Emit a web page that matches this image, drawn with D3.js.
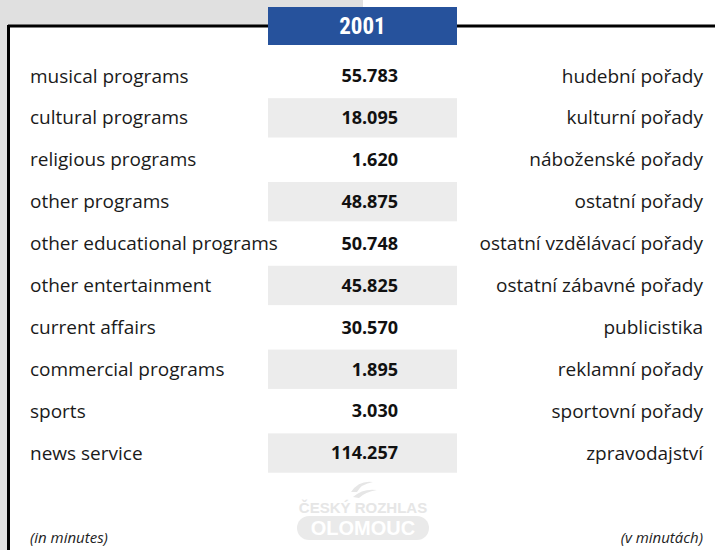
<!DOCTYPE html>
<html>
<head>
<meta charset="utf-8">
<script src="https://cdn.jsdelivr.net/npm/d3@7"></script>
<style>
  body { margin: 0; background: #fff; }
  svg { display: block; }
  .lbl { font-family: "Open Sans", sans-serif; font-size: 19px; fill: #1a1a1a; }
  .val { font-family: "Open Sans", sans-serif; font-size: 18px; font-weight: bold; fill: #111; }
  .note { font-family: "Open Sans", sans-serif; font-size: 15px; font-style: italic; fill: #222; }
</style>
</head>
<body>
<div id="chart"></div>
<script>
// data
var year = "2001";
var labelsEn = ["musical programs", "cultural programs", "religious programs", "other programs",
  "other educational programs", "other entertainment", "current affairs", "commercial programs",
  "sports", "news service"];
var labelsCz = ["hudební pořady", "kulturní pořady", "náboženské pořady", "ostatní pořady",
  "ostatní vzdělávací pořady", "ostatní zábavné pořady", "publicistika", "reklamní pořady",
  "sportovní pořady", "zpravodajství"];
var minutes = [55783, 18095, 1620, 48875, 50748, 45825, 30570, 1895, 3030, 114257];
var unitEn = "(in minutes)", unitCz = "(v minutách)";

var width = 715, height = 550;

var cz = d3.formatLocale({decimal: ",", thousands: ".", grouping: [3], currency: ["", " Kč"]});
var fmt = cz.format(",d");

var svg = d3.select("#chart").append("svg")
  .attr("width", width)
  .attr("height", height);

// background gray corner + left strip
svg.append("rect").attr("x", 0).attr("y", 0).attr("width", 363).attr("height", 26).attr("fill", "#e0e0e0");
svg.append("rect").attr("x", 0).attr("y", 0).attr("width", 8).attr("height", height).attr("fill", "#e0e0e0");

// frame
svg.append("rect").attr("x", 8).attr("y", 26).attr("width", width).attr("height", height)
  .attr("fill", "#fff");
svg.append("line").attr("x1", 8).attr("x2", width).attr("y1", 26).attr("y2", 26)
  .attr("stroke", "#000").attr("stroke-width", 3);
svg.append("line").attr("x1", 8.5).attr("x2", 8.5).attr("y1", 25).attr("y2", height)
  .attr("stroke", "#000").attr("stroke-width", 3);

// column scale
var x = d3.scaleOrdinal()
  .domain(["en", "val", "cz"])
  .range([30, 398, 703]);
var colBand = {x0: 268, x1: 457};

var y = d3.scaleBand()
  .domain(d3.range(minutes.length))
  .range([55, 474])
  .paddingInner(0.06)
  .paddingOuter(0.03);

// header
svg.append("rect")
  .attr("x", colBand.x0).attr("y", 7)
  .attr("width", colBand.x1 - colBand.x0).attr("height", 38)
  .attr("fill", "#26529c");
svg.append("text")
  .attr("x", (colBand.x0 + colBand.x1) / 2).attr("y", 34)
  .attr("text-anchor", "middle")
  .attr("font-family", "'Liberation Sans Narrow', 'Roboto Condensed', Roboto, sans-serif")
  .attr("font-size", "23px").attr("font-weight", "bold")
  .attr("fill", "#fff")
  .text(year);

var rows = svg.selectAll("g.row")
  .data(minutes)
  .enter().append("g")
  .attr("class", "row")
  .attr("transform", function(d, i) { return "translate(0," + y(i) + ")"; });

rows.filter(function(d, i) { return i % 2 == 1; })
  .append("rect")
  .attr("x", colBand.x0)
  .attr("width", colBand.x1 - colBand.x0)
  .attr("height", y.bandwidth())
  .attr("fill", "#ececec");

rows.append("text")
  .attr("class", "lbl")
  .attr("x", x("en"))
  .attr("y", y.bandwidth() / 2)
  .attr("dy", "0.35em")
  .text(function(d, i) { return labelsEn[i]; });

rows.append("text")
  .attr("class", "val")
  .attr("x", x("val"))
  .attr("y", y.bandwidth() / 2)
  .attr("dy", "0.35em")
  .attr("text-anchor", "end")
  .text(function(d) { return fmt(d); });

rows.append("text")
  .attr("class", "lbl")
  .attr("x", x("cz"))
  .attr("y", y.bandwidth() / 2)
  .attr("dy", "0.35em")
  .attr("text-anchor", "end")
  .text(function(d, i) { return labelsCz[i]; });

// watermark logo
var logo = svg.append("g").attr("transform", "translate(363,0)");
logo.append("path")
  .attr("d", "M-12,492 Q-4,480 10,482 Q-2,484 -6,492 Z M-10,497 Q0,488 14,490 Q2,492 -4,498 Z")
  .attr("fill", "#e6e6e6");
logo.append("text")
  .attr("x", 0).attr("y", 513)
  .attr("text-anchor", "middle")
  .attr("font-family", "'Liberation Sans', sans-serif")
  .attr("font-size", "15px").attr("font-weight", "bold")
  .attr("fill", "#e6e6e6")
  .text("ČESKÝ ROZHLAS");
logo.append("rect")
  .attr("x", -66).attr("y", 516).attr("width", 132).attr("height", 24).attr("rx", 12)
  .attr("fill", "#eaeaea");
logo.append("text")
  .attr("x", 0).attr("y", 535)
  .attr("text-anchor", "middle")
  .attr("font-family", "'Liberation Sans', sans-serif")
  .attr("font-size", "20px").attr("font-weight", "bold")
  .attr("fill", "#fff")
  .text("OLOMOUC");

// units
svg.append("text").attr("class", "note")
  .attr("x", 30).attr("y", 543)
  .text(unitEn);
svg.append("text").attr("class", "note")
  .attr("x", 703).attr("y", 543)
  .attr("text-anchor", "end")
  .text(unitCz);
</script>
</body>
</html>
